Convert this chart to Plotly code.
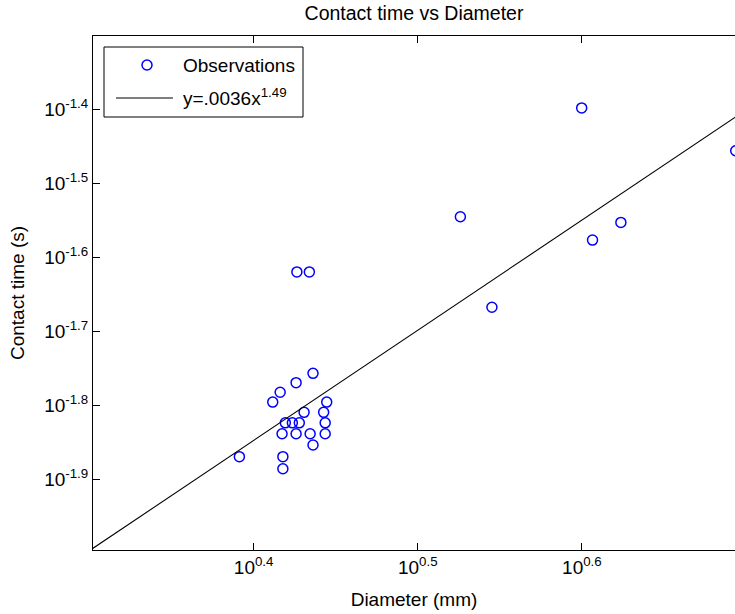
import plotly.graph_objects as go

# Drop diameter (mm) and measured contact time (s)
diameter_mm = [3.980, 4.940, 3.357, 4.205, 4.041, 3.509, 2.669, 2.716,
               2.730, 2.666, 2.607, 2.580, 2.783, 2.696, 2.771,
               2.626, 2.652, 2.678, 2.777, 2.614, 2.666, 2.719, 2.777,
               2.730, 2.462, 2.617, 2.617]
contact_time_s = [0.0400, 0.0350, 0.0285, 0.0280, 0.0265, 0.0215, 0.0240, 0.0240,
                  0.0175, 0.0170, 0.0165, 0.0160, 0.0160, 0.0155, 0.0155,
                  0.0150, 0.0150, 0.0150, 0.0150, 0.0145, 0.0145, 0.0145, 0.0145,
                  0.0140, 0.0135, 0.0135, 0.0130]

# Power-law fit y = a * x^b
fit_coef = 0.0036
fit_exp = 1.49
fit_x = [2.0, 5.0]
fit_y = [fit_coef * x ** fit_exp for x in fit_x]

# Tick exponents (powers of ten)
x_tick_exp = [0.4, 0.5, 0.6]
y_tick_exp = [-1.9, -1.8, -1.7, -1.6, -1.5, -1.4]

FONT = "Liberation Sans, Arial, Helvetica, sans-serif"
W, H = 735, 614
L, R, T, B = 93, 0, 36, 64
PW, PH = W - L - R, H - T - B


def px_x(p):
    return (p - L) / PW


def px_y(p):
    return (H - B - p) / PH


fig = go.Figure()
fig.add_trace(go.Scatter(
    x=diameter_mm, y=contact_time_s, mode="markers", name="Observations",
    marker=dict(symbol="circle-open", size=10, color="#0000ff",
                line=dict(width=1.5, color="#0000ff")),
    showlegend=False,
))
fig.add_trace(go.Scatter(
    x=fit_x, y=fit_y, mode="lines", name="y=.0036x<sup>1.49</sup>",
    line=dict(color="black", width=1.1),
    showlegend=False,
))

axis_common = dict(
    type="log", showgrid=False, zeroline=False, showline=True,
    linecolor="black", linewidth=1, ticks="inside", ticklen=7,
    tickwidth=1, tickcolor="black",
    tickfont=dict(family=FONT, size=19, color="black"),
)

fig.update_layout(
    width=W, height=H,
    margin=dict(l=L, r=R, t=T, b=B, autoexpand=False),
    paper_bgcolor="white", plot_bgcolor="white",
    font=dict(family=FONT, size=19, color="black"),
    title=dict(text="Contact time vs Diameter", x=0.5, xref="paper",
               xanchor="center", y=1 - 13 / H, yref="container",
               yanchor="middle", font=dict(size=19.5)),
    xaxis=dict(axis_common, range=[0.3021, 0.6933], mirror="ticks",
               tickvals=[10 ** e for e in x_tick_exp],
               ticktext=[f"10<sup>{e:g}</sup>" for e in x_tick_exp],
               title=dict(text="Diameter (mm)", standoff=15,
                          font=dict(family=FONT, size=19, color="black"))),
    yaxis=dict(axis_common, range=[-1.9959, -1.3007], mirror=False,
               tickvals=[10 ** e for e in y_tick_exp],
               ticktext=[f"10<sup>{e:g}</sup>" for e in y_tick_exp],
               title=dict(text="Contact time (s)", standoff=14,
                          font=dict(family=FONT, size=19, color="black"))),
    showlegend=False,
)

# Legend box
fig.add_shape(type="rect", xref="paper", yref="paper",
              x0=px_x(104), x1=px_x(303), y0=px_y(117), y1=px_y(47),
              line=dict(color="black", width=1), fillcolor="white", layer="above")
# Legend sample: open circle
r = 5
fig.add_shape(type="circle", xref="paper", yref="paper",
              x0=px_x(147 - r), x1=px_x(147 + r), y0=px_y(65 + r), y1=px_y(65 - r),
              line=dict(color="#0000ff", width=1.5), layer="above")
# Legend sample: fit line
fig.add_shape(type="line", xref="paper", yref="paper",
              x0=px_x(116), x1=px_x(173), y0=px_y(98), y1=px_y(98),
              line=dict(color="black", width=1.1), layer="above")
fig.add_annotation(text="Observations", xref="paper", yref="paper",
                   x=px_x(181), y=px_y(65), xanchor="left", yanchor="middle",
                   showarrow=False, font=dict(size=19))
fig.add_annotation(text="y=.0036x<sup>1.49</sup>", xref="paper", yref="paper",
                   x=px_x(181), y=px_y(97), xanchor="left", yanchor="middle",
                   showarrow=False, font=dict(size=19))

fig.write_html("out.html")
